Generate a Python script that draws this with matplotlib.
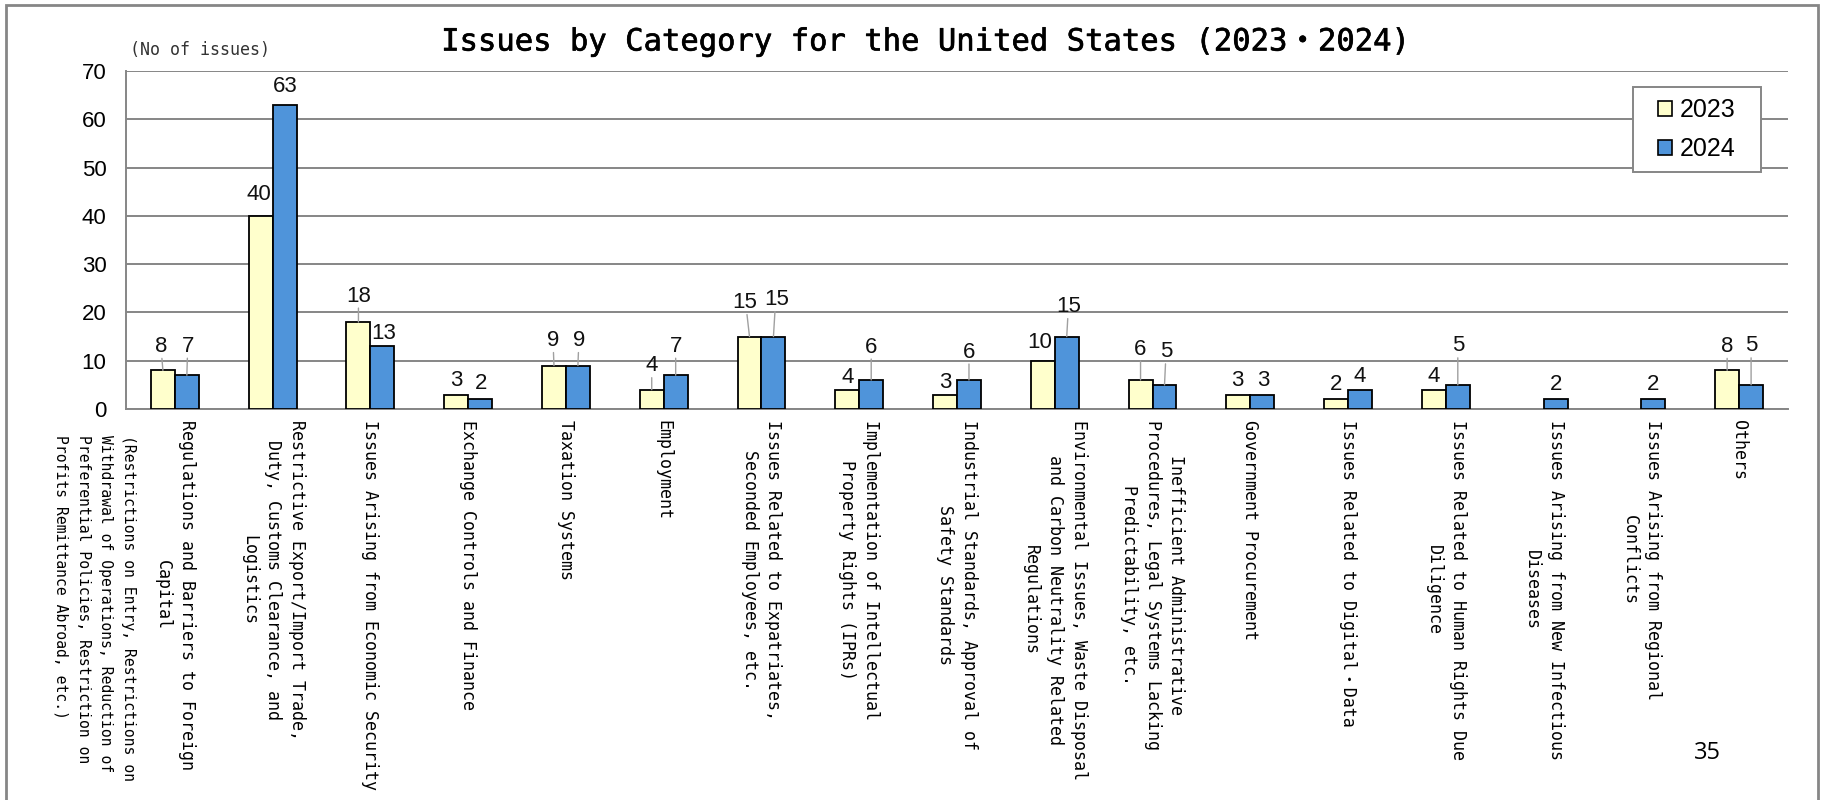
import matplotlib
matplotlib.use("Agg")
import matplotlib.pyplot as plt
import matplotlib.patheffects as pe
from matplotlib.patches import Patch, Rectangle

# Issue counts per category, United States survey
categories = [
    "Regulations and Barriers to Foreign\nCapital",
    "Restrictive Export/Import Trade,\nDuty, Customs Clearance, and\nLogistics",
    "Issues Arising from Economic Security",
    "Exchange Controls and Finance",
    "Taxation Systems",
    "Employment",
    "Issues Related to Expatriates,\nSeconded Employees, etc.",
    "Implementation of Intellectual\nProperty Rights (IPRs)",
    "Industrial Standards, Approval of\nSafety Standards",
    "Environmental Issues, Waste Disposal\nand Carbon Neutrality Related\nRegulations",
    "Inefficient Administrative\nProcedures, Legal Systems Lacking\nPredictability, etc.",
    "Government Procurement",
    "Issues Related to Digital・Data",
    "Issues Related to Human Rights Due\nDiligence",
    "Issues Arising from New Infectious\nDiseases",
    "Issues Arising from Regional\nConflicts",
    "Others",
]
first_note = ("(Restrictions on Entry, Restrictions on\n"
              "Withdrawal of Operations, Reduction of\n"
              "Preferential Policies, Restriction on\n"
              "Profits Remittance Abroad, etc.)")
issues_2023 = [8, 40, 18, 3, 9, 4, 15, 4, 3, 10, 6, 3, 2, 4, 0, 0, 8]
issues_2024 = [7, 63, 13, 2, 9, 7, 15, 6, 6, 15, 5, 3, 4, 5, 2, 2, 5]
years = ["2023", "2024"]

# how far (px) each value label sits above its bar, and its sideways nudge (px)
lift_2023 = [24, 21, 26, 14, 25, 24, 34, 12, 12, 18, 31, 14, 15, 13, 0, 0, 24]
lift_2024 = [29, 18, 13, 16, 25, 29, 37, 33, 28, 30, 33, 14, 13, 39, 15, 15, 39]
nudge_2023 = [-2, -2, 0, 0, -1, 0, -5, 0, 0, -3, 0, -1, 0, 0, 0, 0, 0]
nudge_2024 = [1, 1, 1, 1, 1, 0, 3, 0, 0, 2, 2, 1, 0, 0, 0, 0, 0]

W, H = 1821, 800
mono = ["DejaVu Sans Mono", "Noto Sans CJK JP"]
num_font = "Liberation Sans"
col_2023 = "#FFFFCC"
col_2024 = "#4F94DA"
grey = "#868686"


def label_bars(ax, xs, vals, lifts, nudges):
    for x, v, lift, dx in zip(xs, vals, lifts, nudges):
        if v == 0:
            continue
        ax.annotate(str(v), (x, v), xytext=(dx * 0.72, lift * 0.72), textcoords="offset points",
                    ha="center", va="center", fontsize=16, family=num_font, color="#111111")
        if lift >= 22:
            # leader line from the bar top towards the label
            ax.annotate("", (x, v), xytext=(dx * 0.5 * 0.72, (lift - 12) * 0.72),
                        textcoords="offset points",
                        arrowprops=dict(arrowstyle="-", color="#A0A0A0", lw=1.0,
                                        shrinkA=0, shrinkB=0))


def main():
    fig = plt.figure(figsize=(W / 100, H / 100), dpi=100)
    ax = fig.add_axes([126 / W, 1 - 409 / H, (1788 - 126) / W, (409 - 71) / H])

    n = len(categories)
    xs = list(range(n))
    bw = 0.245
    x23 = [x - bw / 2 for x in xs]
    x24 = [x + bw / 2 for x in xs]

    keep23 = [i for i in xs if issues_2023[i] > 0]
    ax.bar([x23[i] for i in keep23], [issues_2023[i] for i in keep23], width=bw,
           color=col_2023, edgecolor="black", linewidth=1.3, zorder=3)
    ax.bar(x24, issues_2024, width=bw, color=col_2024, edgecolor="black",
           linewidth=1.3, zorder=3)

    label_bars(ax, x23, issues_2023, lift_2023, nudge_2023)
    label_bars(ax, x24, issues_2024, lift_2024, nudge_2024)

    ax.set_xlim(-0.5, n - 0.5)
    ax.set_ylim(0, 70)
    ax.set_yticks(range(0, 71, 10))
    ax.yaxis.grid(True, color=grey, linewidth=1.4)
    ax.set_axisbelow(True)
    for side in ["top", "right"]:
        ax.spines[side].set_visible(False)
    for side in ["left", "bottom"]:
        ax.spines[side].set_color(grey)
        ax.spines[side].set_linewidth(1.4)
    ax.tick_params(axis="y", length=0, pad=14)
    for t in ax.get_yticklabels():
        t.set_family(num_font)
        t.set_fontsize(16)

    ax.set_xticks(xs)
    ax.set_xticklabels(categories, rotation=270, ha="center", va="top",
                       multialignment="center", fontsize=12, family=mono, linespacing=1.42)
    ax.tick_params(axis="x", length=0, pad=8)

    # the long note under the first category
    ax.text(-0.82, -26 / 338, first_note, transform=ax.get_xaxis_transform(),
            rotation=270, ha="center", va="top", multialignment="left",
            fontsize=10.6, family=mono, linespacing=1.6)

    # legend with a plain grey box
    box = Rectangle((0.9067, 0.7012), 0.0771, 0.2515, transform=ax.transAxes,
                    facecolor="white", edgecolor=grey, linewidth=1.4, zorder=6, clip_on=False)
    ax.add_patch(box)
    handles = [Patch(facecolor=col_2023, edgecolor="black", linewidth=1.2),
               Patch(facecolor=col_2024, edgecolor="black", linewidth=1.2)]
    leg = ax.legend(handles, years, loc="center", bbox_to_anchor=(0.9452, 0.827),
                    frameon=False, prop={"family": num_font, "size": 18},
                    handlelength=0.55, handleheight=0.55, handletextpad=0.3,
                    labelspacing=0.6)
    leg.set_zorder(7)

    title = fig.text(925 / W, 1 - 42 / H,
                     "Issues by Category for the United States (2023・2024)",
                     ha="center", va="center", fontsize=22, family=mono)
    title.set_path_effects([pe.withStroke(linewidth=0.45, foreground="black")])
    fig.text(130 / W, 1 - 50 / H, "(No of issues)", ha="left", va="center",
             fontsize=12, family=mono, color="#333333")
    fig.text(1707 / W, 1 - 753 / H, "35", ha="center", va="center",
             fontsize=17, family="Open Sans")

    # slide frame
    fig.add_artist(Rectangle((6 / W, -0.05), (1818 - 6) / W, 1.05 - 5 / H,
                             transform=fig.transFigure, fill=False,
                             edgecolor=grey, linewidth=2.0))

    fig.savefig("out.png", dpi=100, facecolor="white")


if __name__ == "__main__":
    main()
